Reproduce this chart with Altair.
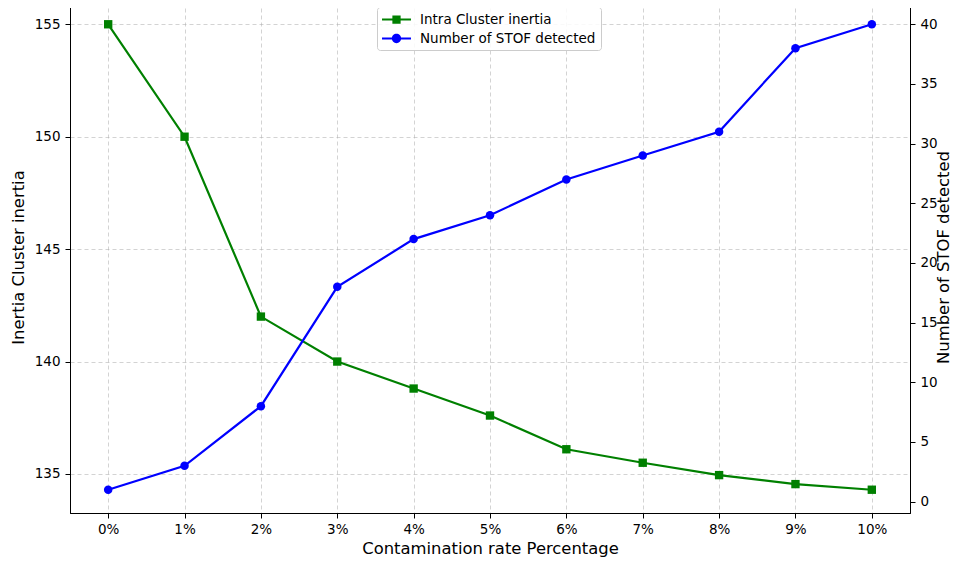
import altair as alt
import pandas as pd

# ---- data ----
rates = ["0%", "1%", "2%", "3%", "4%", "5%", "6%", "7%", "8%", "9%", "10%"]
inertia = [155.0, 150.0, 142.0, 140.0, 138.8, 137.6, 136.1, 135.5, 134.95, 134.55, 134.3]
stof = [1, 3, 8, 18, 22, 24, 27, 29, 31, 38, 40]
series_names = ["Intra Cluster inertia", "Number of STOF detected"]
series_colors = ["#008000", "#0000ff"]
left_ticks = [135, 140, 145, 150, 155]
right_ticks = [0, 5, 10, 15, 20, 25, 30, 35, 40]

# legend glyphs: line with square / line with circle (custom paths)
legend_shapes = [
    "M-1.93,-0.14L1.93,-0.14L1.93,0.14L-1.93,0.14Z"
    "M-0.55,-0.55L0.55,-0.55L0.55,0.55L-0.55,0.55Z",
    "M-1.93,-0.14L1.93,-0.14L1.93,0.14L-1.93,0.14Z"
    "M0.62,0A0.62,0.62 0 1,1 -0.62,0A0.62,0.62 0 1,1 0.62,0Z",
]

df_i = pd.DataFrame({"rate": rates, "value": inertia, "series": series_names[0]})
df_s = pd.DataFrame({"rate": rates, "value": stof, "series": series_names[1]})

FONT = "DejaVu Sans"

x_enc = alt.X(
    "rate:O",
    sort=rates,
    scale=alt.Scale(type="point", padding=0.5),
    axis=alt.Axis(title="Contamination rate Percentage", labelAngle=0, grid=True,
                  labelPadding=4, titlePadding=5),
)

y_left = alt.Y(
    "value:Q",
    scale=alt.Scale(domain=[133.265, 156.035], nice=False, zero=False),
    axis=alt.Axis(title="Inertia Cluster inertia", values=left_ticks, grid=True,
                  orient="left", titlePadding=8),
)

y_right = alt.Y(
    "value:Q",
    scale=alt.Scale(domain=[-0.95, 41.95], nice=False, zero=False),
    axis=alt.Axis(title="Number of STOF detected", values=right_ticks, grid=False,
                  orient="right", titleAngle=270, titleBaseline="middle",
                  titleX=33, titleY=256, titleAlign="center"),
)

base_i = alt.Chart(df_i)
green_line = base_i.mark_line(color=series_colors[0], strokeWidth=2.2).encode(x=x_enc, y=y_left)
green_pts = base_i.mark_point(shape="square", filled=True, opacity=1, size=70,
                              color=series_colors[0]).encode(x=x_enc, y=y_left)

legend_layer = base_i.transform_filter("false").mark_point(filled=True, opacity=1).encode(
    x=x_enc,
    y=y_left,
    color=alt.Color("series:N", scale=alt.Scale(domain=series_names, range=series_colors),
                    legend=alt.Legend(title=None, orient="none", legendX=307, legendY=6)),
    shape=alt.Shape("series:N", scale=alt.Scale(domain=series_names, range=legend_shapes),
                    legend=alt.Legend(title=None, orient="none", legendX=307, legendY=6)),
)

left = alt.layer(green_line, green_pts, legend_layer)

base_s = alt.Chart(df_s)
blue_line = base_s.mark_line(color=series_colors[1], strokeWidth=2.2).encode(x=x_enc, y=y_right)
blue_pts = base_s.mark_point(shape="circle", filled=True, opacity=1, size=72,
                             color=series_colors[1]).encode(x=x_enc, y=y_right)
right = alt.layer(blue_line, blue_pts)

chart = (
    alt.layer(left, right)
    .resolve_scale(y="independent")
    .properties(
        width=840,
        height=512,
        autosize=alt.AutoSizeParams(type="none"),
        padding={"left": 62, "top": -7, "right": 41, "bottom": 44},
    )
    .configure_view(stroke="black", strokeWidth=1)
    .configure_axis(
        labelFont=FONT, labelFontSize=13.5, labelColor="black",
        titleFont=FONT, titleFontSize=16.4, titleFontWeight="normal", titleColor="black",
        domainColor="black", domainWidth=1, tickColor="black", tickSize=5, labelPadding=5,
        gridColor="#b0b0b0", gridDash=[4, 3], gridOpacity=0.7, gridWidth=0.8,
    )
    .configure_legend(
        labelFont=FONT, labelFontSize=13.5, labelColor="black", labelLimit=400,
        symbolSize=225, symbolStrokeWidth=0, symbolOffset=7, labelOffset=16,
        padding=5, rowPadding=5, fillColor="rgba(255,255,255,0.85)", strokeColor="#cccccc",
        cornerRadius=3,
    )
)

chart.save("out.html", embed_options={"renderer": "svg", "actions": False})
